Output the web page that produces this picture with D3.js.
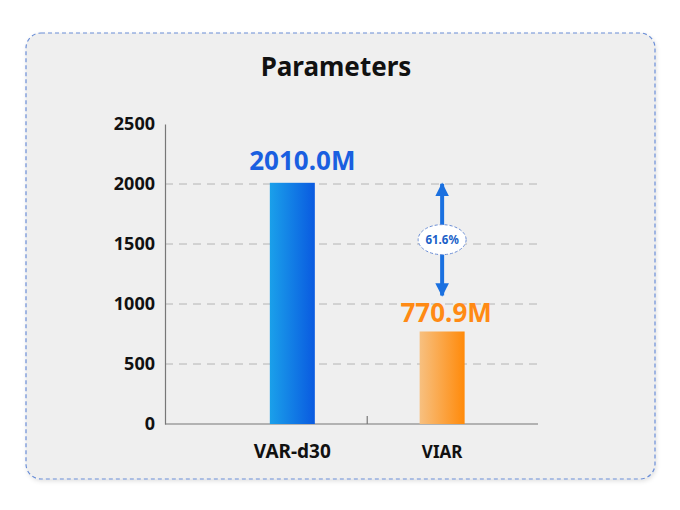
<!DOCTYPE html>
<html>
<head>
<meta charset="utf-8">
<script src="https://cdn.jsdelivr.net/npm/d3@7"></script>
<style>
  html, body { margin: 0; padding: 0; background: #fff; }
  svg { display: block; font-family: "Noto Sans", "Open Sans", sans-serif; }
</style>
</head>
<body>
<div id="chart"></div>
<script>
// chart data
var categories = ['VAR-d30', 'VIAR'];
var values = [2010.0, 770.9];
var valueLabels = ['2010.0M', '770.9M'];
var yTicks = [0, 500, 1000, 1500, 2000, 2500];
var gridTicks = [500, 1000, 1500, 2000];
var reductionLabel = '61.6%';

var width = 680, height = 510;

var svg = d3.select('#chart').append('svg')
    .attr('width', width)
    .attr('height', height);

var defs = svg.append('defs');

// bar gradients
var gBlue = defs.append('linearGradient').attr('id', 'g-blue')
    .attr('x1', '0%').attr('x2', '100%').attr('y1', '0%').attr('y2', '0%');
gBlue.append('stop').attr('offset', '0%').attr('stop-color', '#1aa0ea');
gBlue.append('stop').attr('offset', '100%').attr('stop-color', '#0a5ae0');

var gOrange = defs.append('linearGradient').attr('id', 'g-orange')
    .attr('x1', '0%').attr('x2', '100%').attr('y1', '0%').attr('y2', '0%');
gOrange.append('stop').attr('offset', '0%').attr('stop-color', '#f7c080');
gOrange.append('stop').attr('offset', '100%').attr('stop-color', '#ff8a0a');

var shadow = defs.append('filter').attr('id', 'shadow')
    .attr('x', '-5%').attr('y', '-5%').attr('width', '110%').attr('height', '115%');
shadow.append('feDropShadow').attr('dx', 1).attr('dy', 2).attr('stdDeviation', 2)
    .attr('flood-color', '#000').attr('flood-opacity', 0.12);

var marker = defs.append('marker').attr('id', 'arrow-head')
    .attr('viewBox', '0 0 10 10').attr('refX', 9).attr('refY', 5)
    .attr('markerWidth', 3.6).attr('markerHeight', 3.4)
    .attr('markerUnits', 'strokeWidth')
    .attr('orient', 'auto-start-reverse');
marker.append('path').attr('d', 'M0,0 L10,5 L0,10 Z').attr('fill', '#1a70e0');

// card background
svg.append('rect')
    .attr('x', 26).attr('y', 33)
    .attr('width', 629).attr('height', 446)
    .attr('rx', 15).attr('ry', 15)
    .attr('fill', '#efefef')
    .attr('stroke', '#6b8ed6')
    .attr('stroke-width', 1.2)
    .attr('stroke-dasharray', '4,3')
    .attr('filter', 'url(#shadow)');

// title
svg.append('text')
    .attr('x', 336).attr('y', 76)
    .attr('text-anchor', 'middle')
    .attr('font-size', '26px')
    .attr('font-weight', 'bold')
    .attr('fill', '#111')
    .text('Parameters');

// scales
var x = d3.scaleLinear().domain([-0.85, 1.64]).range([165, 538]);
var y = d3.scaleLinear().domain([0, 2500]).range([424, 124]);
var barW = 45;

// grid lines
svg.append('g')
    .selectAll('line')
    .data(gridTicks)
    .enter()
    .append('line')
    .attr('x1', x(-0.85)).attr('x2', x(1.64))
    .attr('y1', function(d) { return y(d); })
    .attr('y2', function(d) { return y(d); })
    .attr('stroke', '#b4b4b4')
    .attr('stroke-width', 1)
    .attr('stroke-dasharray', '8,6');

// y axis
var yAxis = d3.axisLeft(y).tickValues(yTicks).tickFormat(d3.format('d')).tickSize(0).tickPadding(10);
var yg = svg.append('g').attr('transform', 'translate(' + x(-0.85) + ',0)').call(yAxis);
yg.select('.domain').attr('stroke', '#777').attr('stroke-width', 1.2);
yg.selectAll('text')
    .attr('font-size', '18px')
    .attr('font-weight', 'bold')
    .attr('fill', '#111')
    .attr('font-family', '"Noto Sans", sans-serif');

// x axis
var xg = svg.append('g').attr('transform', 'translate(0,' + y(0) + ')');
xg.append('line')
    .attr('x1', x(-0.85)).attr('x2', x(1.64))
    .attr('stroke', '#777').attr('stroke-width', 1.2);
xg.append('line')
    .attr('x1', x(0.5)).attr('x2', x(0.5))
    .attr('y1', 0).attr('y2', -8)
    .attr('stroke', '#777').attr('stroke-width', 1.2);

xg.selectAll('text.cat')
    .data(categories)
    .enter()
    .append('text')
    .attr('class', 'cat')
    .attr('x', function(d, i) { return x(i); })
    .attr('y', 34)
    .attr('text-anchor', 'middle')
    .attr('font-size', function(d, i) { return i === 0 ? '19px' : '17px'; })
    .attr('font-weight', 'bold')
    .attr('fill', '#111')
    .text(function(d) { return d; });

// bars
svg.append('g')
    .selectAll('rect')
    .data(values)
    .enter()
    .append('rect')
    .attr('x', function(d, i) { return x(i) - barW / 2; })
    .attr('y', function(d) { return y(d); })
    .attr('width', barW)
    .attr('height', function(d) { return y(0) - y(d); })
    .attr('fill', function(d, i) { return i === 0 ? 'url(#g-blue)' : 'url(#g-orange)'; });

// value labels
svg.append('g')
    .selectAll('text')
    .data(values)
    .enter()
    .append('text')
    .attr('x', function(d, i) { return x(i) + (i === 0 ? 10 : 4); })
    .attr('y', function(d, i) { return y(d) - (i === 0 ? 13 : 9); })
    .attr('text-anchor', 'middle')
    .attr('font-size', '26px')
    .attr('font-weight', 'bold')
    .attr('fill', function(d, i) { return i === 0 ? '#1a5fe0' : '#ff8a14'; })
    .text(function(d, i) { return valueLabels[i]; });

// reduction arrow
var ax = x(1);
var aTop = y(values[0]);
var aBot = y(values[1]) - 35;
svg.append('line')
    .attr('x1', ax).attr('x2', ax)
    .attr('y1', aTop + 1).attr('y2', aBot - 1)
    .attr('stroke', '#1a70e0')
    .attr('stroke-width', 4)
    .attr('marker-start', 'url(#arrow-head)')
    .attr('marker-end', 'url(#arrow-head)');

var midY = (aTop + aBot) / 2;
svg.append('ellipse')
    .attr('cx', ax).attr('cy', midY)
    .attr('rx', 24).attr('ry', 15)
    .attr('fill', '#fff')
    .attr('stroke', '#6b8ed6')
    .attr('stroke-width', 1)
    .attr('stroke-dasharray', '3,2');

svg.append('text')
    .attr('x', ax).attr('y', midY + 4)
    .attr('text-anchor', 'middle')
    .attr('font-size', '11.5px')
    .attr('font-weight', 'bold')
    .attr('fill', '#1a5fc8')
    .text(reductionLabel);
</script>
</body>
</html>
